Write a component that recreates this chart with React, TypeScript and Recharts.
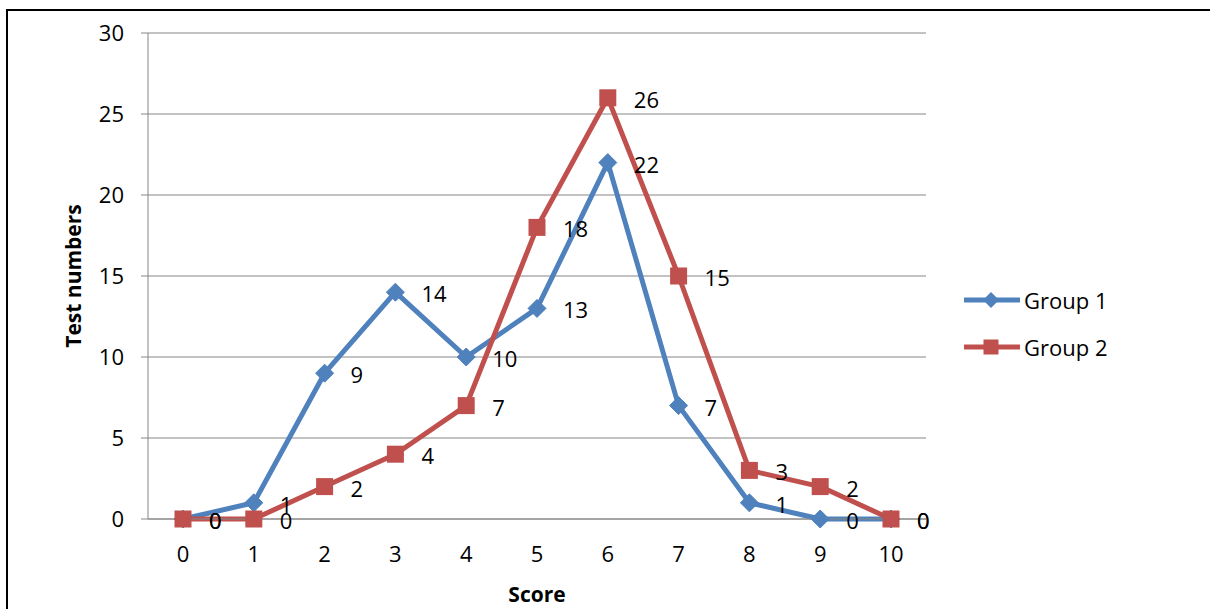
import React from 'react';
import { LineChart, Line, XAxis, YAxis, CartesianGrid, Legend, LabelList, Label } from 'recharts';

const categories = ['0', '1', '2', '3', '4', '5', '6', '7', '8', '9', '10'];
const group1 = [0, 1, 9, 14, 10, 13, 22, 7, 1, 0, 0];
const group2 = [0, 0, 2, 4, 7, 18, 26, 15, 3, 2, 0];
const yTicks = [0, 5, 10, 15, 20, 25, 30];
const seriesNames = ['Group 1', 'Group 2'];

const BLUE = '#4F81BD';
const RED = '#C0504D';
const GRID = '#868686';
const FONT = '"Open Sans", sans-serif';

const data = categories.map((c, i) => ({ score: c, g1: group1[i], g2: group2[i] }));

const Diamond = (props: any) => {
  const { cx, cy, index } = props;
  if (cx == null || cy == null) return <g key={`d${index}`} />;
  const r = 9;
  return (
    <path
      key={`d${index}`}
      d={`M${cx},${cy - r}L${cx + r},${cy}L${cx},${cy + r}L${cx - r},${cy}Z`}
      fill={BLUE}
      stroke={BLUE}
      strokeWidth={1}
    />
  );
};

const Square = (props: any) => {
  const { cx, cy, index } = props;
  if (cx == null || cy == null) return <g key={`s${index}`} />;
  const s = 17;
  return <rect key={`s${index}`} x={cx - s / 2} y={cy - s / 2} width={s} height={s} fill={RED} />;
};

const ValueLabel = (props: any) => {
  const { x, y, value } = props;
  return (
    <text x={x + 26} y={y + 1} fontSize={22} fontFamily={FONT} fill="#000" dominantBaseline="central" textAnchor="start">
      {value}
    </text>
  );
};

const XTick = (props: any) => {
  const { x, y, payload } = props;
  return (
    <text x={x} y={y + 34} fontSize={22} fontFamily={FONT} fill="#000" textAnchor="middle" dominantBaseline="central">
      {payload.value}
    </text>
  );
};

const LegendContent = () => (
  <div style={{ fontFamily: FONT, fontSize: 22, color: '#000' }}>
    {seriesNames.map((name, i) => (
      <div key={name} style={{ display: 'flex', alignItems: 'center', height: 47 }}>
        <svg width={60} height={24} style={{ display: 'block' }}>
          <line x1={0} y1={12} x2={56} y2={12} stroke={i === 0 ? BLUE : RED} strokeWidth={5} />
          {i === 0 ? (
            <path d="M27,4L35,12L27,20L19,12Z" fill={BLUE} />
          ) : (
            <rect x={19.5} y={4.5} width={15} height={15} fill={RED} />
          )}
        </svg>
        <span style={{ lineHeight: 1 }}>{name}</span>
      </div>
    ))}
  </div>
);

export default function App() {
  return (
    <div style={{ position: 'absolute', left: 0, top: 0, width: 1210, height: 609, background: '#fff' }}>
      <div
        style={{
          position: 'absolute',
          left: 6,
          top: 9,
          width: 1204,
          height: 600,
          borderLeft: '2px solid #000',
          borderTop: '2px solid #000',
          boxSizing: 'border-box',
        }}
      />
      <div style={{ position: 'absolute', left: 0, top: 0 }}>
        <LineChart width={1210} height={609} data={data} margin={{ top: 33, right: 284, bottom: 50, left: 0 }}>
          <CartesianGrid vertical={false} stroke={GRID} strokeWidth={1} />
          <XAxis
            dataKey="score"
            height={40}
            padding={{ left: 35, right: 35 }}
            axisLine={{ stroke: GRID, strokeWidth: 1 }}
            tickLine={false}
            tickSize={0}
            tickMargin={0}
            tick={<XTick />}
            interval={0}
          >
            <Label
              value="Score"
              position="bottom"
              offset={28}
              style={{ fontFamily: FONT, fontSize: 21, fontWeight: 700, fill: '#000' }}
            />
          </XAxis>
          <YAxis
            width={148}
            domain={[0, 30]}
            ticks={yTicks}
            interval={0}
            axisLine={{ stroke: GRID, strokeWidth: 1 }}
            tickLine={{ stroke: GRID, strokeWidth: 1 }}
            tickSize={7}
            tickMargin={17}
            tick={{ fontSize: 22, fontFamily: FONT, fill: '#000' }}
          >
            <Label
              value="Test numbers"
              angle={-90}
              position="center"
              style={{ fontFamily: FONT, fontSize: 21, fontWeight: 700, fill: '#000' }}
            />
          </YAxis>
          <Legend
            layout="horizontal"
            align="center"
            verticalAlign="middle"
            content={<LegendContent />}
            wrapperStyle={{ position: 'absolute', left: 964, top: 276, width: 220 }}
          />
          <Line
            type="linear"
            dataKey="g1"
            name="Group 1"
            stroke={BLUE}
            strokeWidth={5}
            strokeLinejoin="round"
            dot={(p: any) => <Diamond {...p} />}
            activeDot={false}
            isAnimationActive={false}
          >
            <LabelList dataKey="g1" content={<ValueLabel />} />
          </Line>
          <Line
            type="linear"
            dataKey="g2"
            name="Group 2"
            stroke={RED}
            strokeWidth={5}
            strokeLinejoin="round"
            dot={(p: any) => <Square {...p} />}
            activeDot={false}
            isAnimationActive={false}
          >
            <LabelList dataKey="g2" content={<ValueLabel />} />
          </Line>
        </LineChart>
      </div>
    </div>
  );
}
